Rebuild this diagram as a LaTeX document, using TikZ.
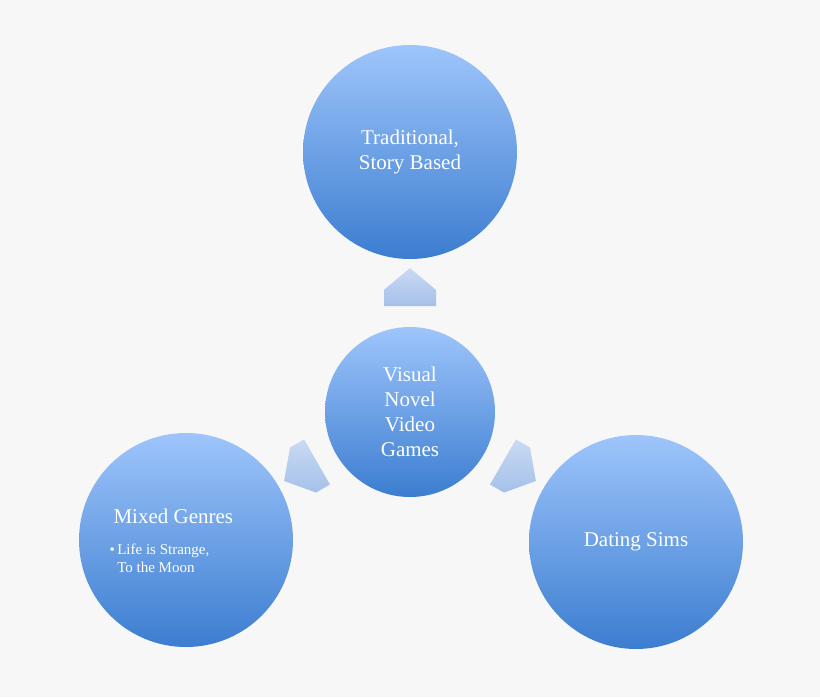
\documentclass[tikz,border=0pt]{standalone}
\usepackage{fontspec}
\setmainfont{Liberation Serif}
\usetikzlibrary{shapes.arrows}
\definecolor{bg}{HTML}{F7F7F7}
\definecolor{ctop}{HTML}{9EC5FB}
\definecolor{cbot}{HTML}{3C7DD0}
\definecolor{atop}{HTML}{C9DAF3}
\definecolor{abot}{HTML}{A5C0E9}
\tikzset{
  bubble/.style={circle,top color=ctop,bottom color=cbot,draw=none,text=white,align=center,font=\fontsize{21}{25}\selectfont},
  barrow/.style={single arrow,draw=none,top color=atop,bottom color=abot,minimum height=38pt,minimum width=52pt,single arrow head extend=0pt,single arrow tip angle=100,inner sep=4pt}
}
\begin{document}
\begin{tikzpicture}[x=1pt,y=-1pt]
\fill[bg] (0,0) rectangle (820,697);
\useasboundingbox (0,0) rectangle (820,697);
\node[bubble,minimum size=214pt] (top) at (410,152) {Traditional,\\Story Based};
\node[bubble,minimum size=170pt] (mid) at (410,412) {Visual\\Novel\\Video\\Games};
\node[bubble,minimum size=214pt] (left) at (186,540) {};
\node[text=white,font=\fontsize{21}{25}\selectfont,anchor=west] (lt) at (110,516) {Mixed Genres};
\node[text=white,font=\fontsize{15}{18}\selectfont,anchor=north west,align=left] (ll) at (106,540) {\textbullet\,Life is Strange,\\\phantom{\textbullet\,}To the Moon};
\node[bubble,minimum size=214pt] (right) at (636,542) {Dating Sims};
\node[barrow,rotate=90] (a1) at (410,298) {};
\node[barrow,rotate=210] (a2) at (310,466) {};
\node[barrow,rotate=-30] (a3) at (510,466) {};
\end{tikzpicture}
\end{document}
